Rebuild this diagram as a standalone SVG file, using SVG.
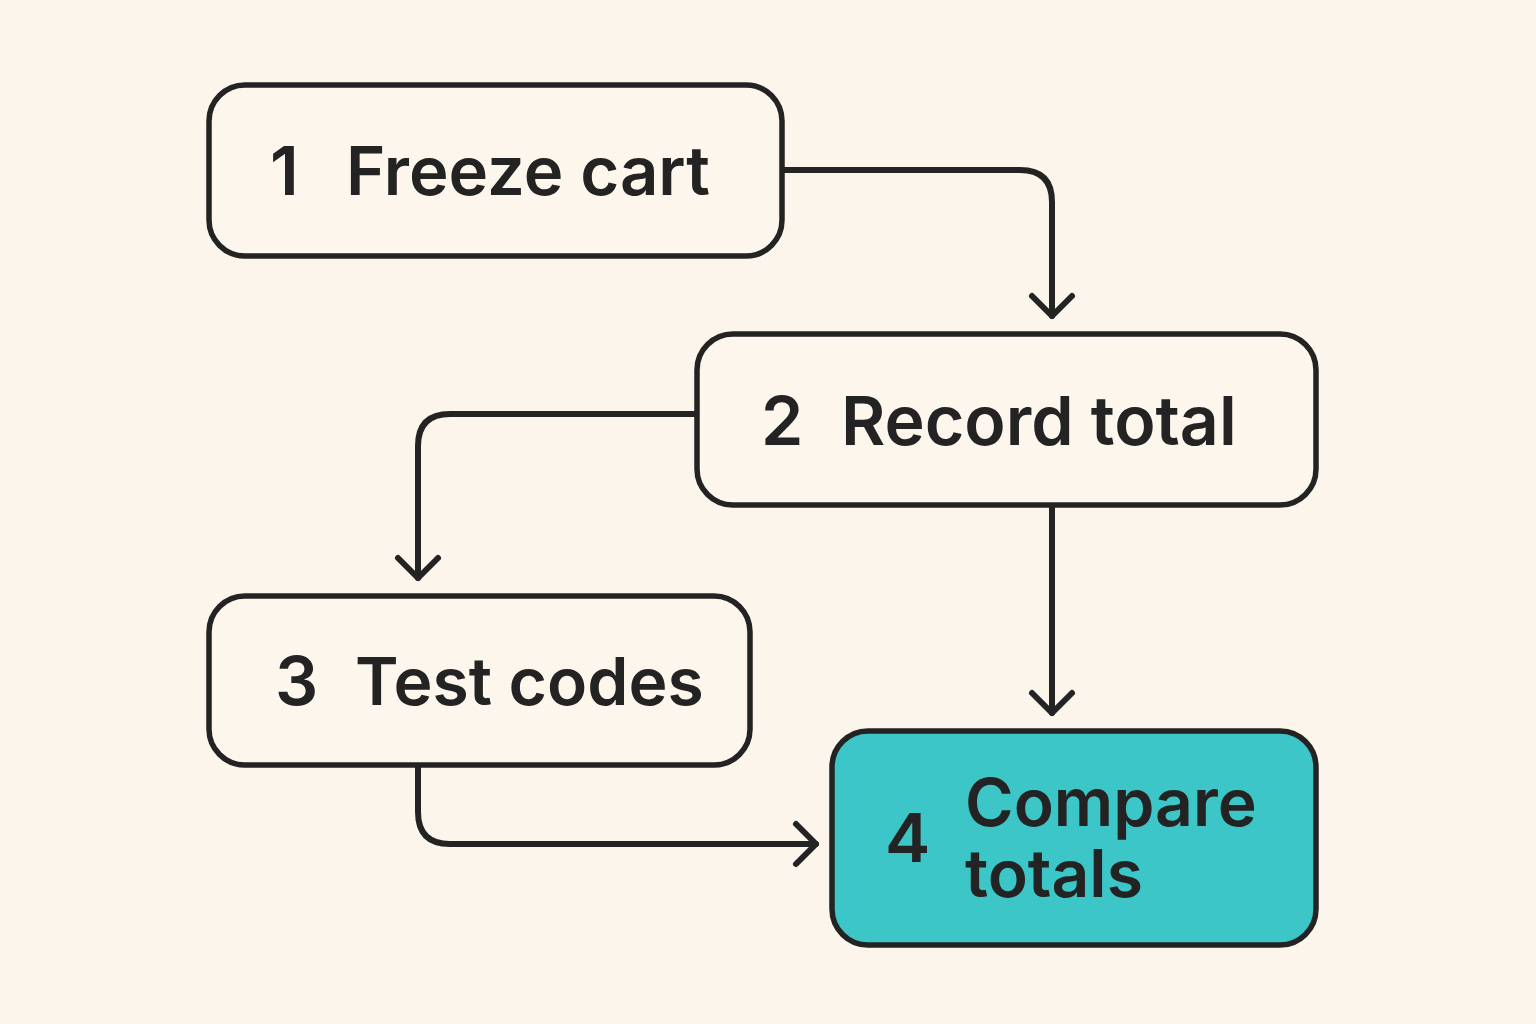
<svg xmlns="http://www.w3.org/2000/svg" width="1536" height="1024" viewBox="0 0 1536 1024">
<defs>
<style>
.box{fill:#FCF6EC;stroke:#232323;stroke-width:5.5}
.hl{fill:#3CC6C8}
.t{font-family:Inter,"Liberation Sans",sans-serif;font-weight:600;font-size:68px;fill:#232323}
.c{fill:none;stroke:#232323;stroke-width:6;stroke-linecap:round;stroke-linejoin:round}
</style>
<marker id="ah" viewBox="0 0 30 50" refX="25" refY="25" markerWidth="30" markerHeight="50" markerUnits="userSpaceOnUse" orient="auto">
<path d="M5 5 L25 25 L5 45" fill="none" stroke="#232323" stroke-width="6" stroke-linecap="round" stroke-linejoin="round"/>
</marker>
</defs>
<rect width="1536" height="1024" fill="#FBF5EB"/>
<g id="connectors">
<path class="c" d="M782 170 H1020 Q1052 170 1052 202 V316" marker-end="url(#ah)"/>
<path class="c" d="M697 414 H450 Q418 414 418 446 V578" marker-end="url(#ah)"/>
<path class="c" d="M1052 505 V713" marker-end="url(#ah)"/>
<path class="c" d="M418 765 V812 Q418 844 450 844 H816" marker-end="url(#ah)"/>
</g>
<g id="n1">
<rect class="box" x="209" y="85" width="573" height="171" rx="36"/>
<text class="t" x="270" y="195">1</text>
<text class="t" x="346" y="195" style="font-size:67px">Freeze cart</text>
</g>
<g id="n2">
<rect class="box" x="697" y="334" width="619" height="171" rx="36"/>
<text class="t" x="761" y="445">2</text>
<text class="t" x="841" y="445">Record total</text>
</g>
<g id="n3">
<rect class="box" x="209" y="596" width="541" height="169" rx="36"/>
<text class="t" x="275" y="705">3</text>
<text class="t" x="355" y="705" style="font-size:66px">Test codes</text>
</g>
<g id="n4">
<rect class="box hl" x="832" y="731" width="484" height="214" rx="36"/>
<text class="t" x="885" y="862">4</text>
<text class="t" style="font-size:66px"><tspan x="965" y="826">Compare</tspan><tspan x="965" y="897">totals</tspan></text>
</g>
</svg>
